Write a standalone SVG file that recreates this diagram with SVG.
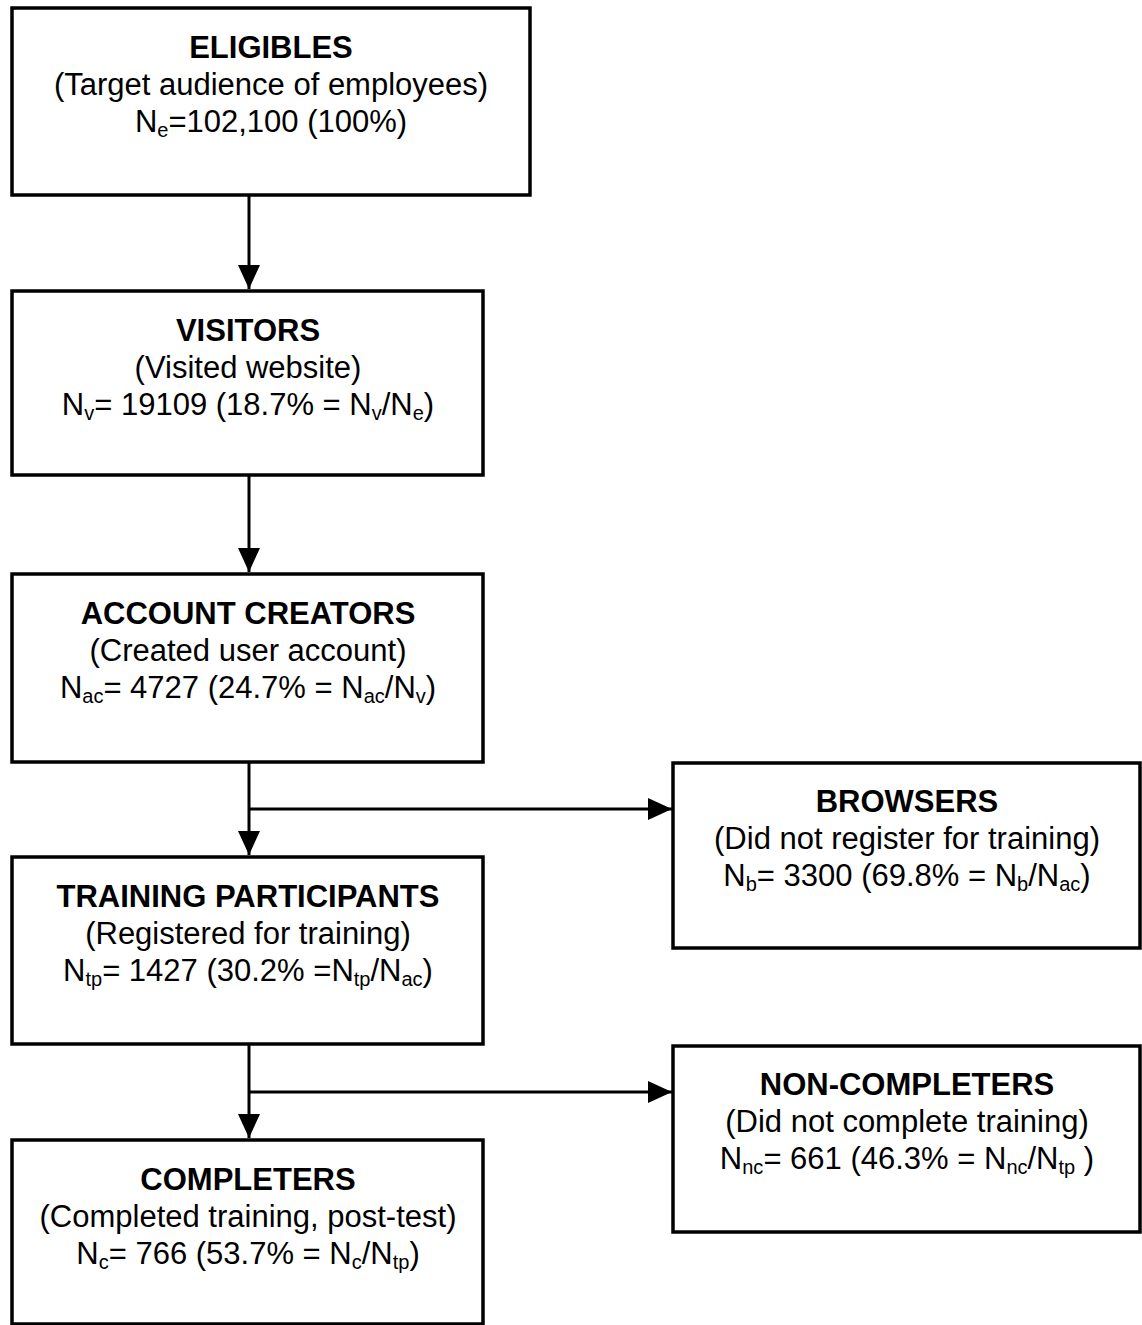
<svg xmlns="http://www.w3.org/2000/svg" width="1142" height="1325" viewBox="0 0 1142 1325">
<style>
.box{fill:#fff;stroke:#000;stroke-width:3.5}
.t{font-family:"Liberation Sans",Arial,sans-serif;font-size:31px;text-anchor:middle;fill:#000}
.b{font-weight:bold}
.s{font-size:20px}
.c{stroke:#000;stroke-width:3;fill:none}
</style>
<defs>
<marker id="ah" markerUnits="userSpaceOnUse" markerWidth="26" markerHeight="22" refX="24" refY="11" orient="auto">
<path d="M0,0 L24,11 L0,22 Z" fill="#000"/>
</marker>
</defs>
<rect width="1142" height="1325" fill="#fff"/>
<g id="connectors">
<line class="c" x1="249" y1="195" x2="249" y2="289" marker-end="url(#ah)"/>
<line class="c" x1="249" y1="476" x2="249" y2="572" marker-end="url(#ah)"/>
<line class="c" x1="249" y1="762" x2="249" y2="855" marker-end="url(#ah)"/>
<line class="c" x1="249" y1="809" x2="672" y2="809" marker-end="url(#ah)"/>
<line class="c" x1="249" y1="1045" x2="249" y2="1138" marker-end="url(#ah)"/>
<line class="c" x1="249" y1="1092" x2="672" y2="1092" marker-end="url(#ah)"/>
</g>
<g id="eligibles">
<rect class="box" x="12" y="8" width="518" height="187"/>
<text class="t b" x="271" y="58">ELIGIBLES</text>
<text class="t" x="271" y="95">(Target audience of employees)</text>
<text class="t" x="271" y="132">N<tspan class="s" dy="5">e</tspan><tspan dy="-5">=102,100 (100%)</tspan></text>
</g>
<g id="visitors">
<rect class="box" x="12" y="291" width="471" height="184"/>
<text class="t b" x="248" y="341">VISITORS</text>
<text class="t" x="248" y="378">(Visited website)</text>
<text class="t" x="248" y="415">N<tspan class="s" dy="5">v</tspan><tspan dy="-5">= 19109 (18.7% = N</tspan><tspan class="s" dy="5">v</tspan><tspan dy="-5">/N</tspan><tspan class="s" dy="5">e</tspan><tspan dy="-5">)</tspan></text>
</g>
<g id="account-creators">
<rect class="box" x="12" y="574" width="471" height="188"/>
<text class="t b" x="248" y="624">ACCOUNT CREATORS</text>
<text class="t" x="248" y="661">(Created user account)</text>
<text class="t" x="248" y="698">N<tspan class="s" dy="5">ac</tspan><tspan dy="-5">= 4727 (24.7% = N</tspan><tspan class="s" dy="5">ac</tspan><tspan dy="-5">/N</tspan><tspan class="s" dy="5">v</tspan><tspan dy="-5">)</tspan></text>
</g>
<g id="training-participants">
<rect class="box" x="12" y="857" width="471" height="187"/>
<text class="t b" x="248" y="907">TRAINING PARTICIPANTS</text>
<text class="t" x="248" y="944">(Registered for training)</text>
<text class="t" x="248" y="981">N<tspan class="s" dy="5">tp</tspan><tspan dy="-5">= 1427 (30.2% =N</tspan><tspan class="s" dy="5">tp</tspan><tspan dy="-5">/N</tspan><tspan class="s" dy="5">ac</tspan><tspan dy="-5">)</tspan></text>
</g>
<g id="completers">
<rect class="box" x="12" y="1140" width="471" height="184"/>
<text class="t b" x="248" y="1190">COMPLETERS</text>
<text class="t" x="248" y="1227">(Completed training, post-test)</text>
<text class="t" x="248" y="1264">N<tspan class="s" dy="5">c</tspan><tspan dy="-5">= 766 (53.7% = N</tspan><tspan class="s" dy="5">c</tspan><tspan dy="-5">/N</tspan><tspan class="s" dy="5">tp</tspan><tspan dy="-5">)</tspan></text>
</g>
<g id="browsers">
<rect class="box" x="673" y="763" width="467" height="185"/>
<text class="t b" x="907" y="812">BROWSERS</text>
<text class="t" x="907" y="849">(Did not register for training)</text>
<text class="t" x="907" y="886">N<tspan class="s" dy="5">b</tspan><tspan dy="-5">= 3300 (69.8% = N</tspan><tspan class="s" dy="5">b</tspan><tspan dy="-5">/N</tspan><tspan class="s" dy="5">ac</tspan><tspan dy="-5">)</tspan></text>
</g>
<g id="non-completers">
<rect class="box" x="673" y="1046" width="467" height="186"/>
<text class="t b" x="907" y="1095">NON-COMPLETERS</text>
<text class="t" x="907" y="1132">(Did not complete training)</text>
<text class="t" x="907" y="1169">N<tspan class="s" dy="5">nc</tspan><tspan dy="-5">= 661 (46.3% = N</tspan><tspan class="s" dy="5">nc</tspan><tspan dy="-5">/N</tspan><tspan class="s" dy="5">tp</tspan><tspan dy="-5"> )</tspan></text>
</g>
</svg>
